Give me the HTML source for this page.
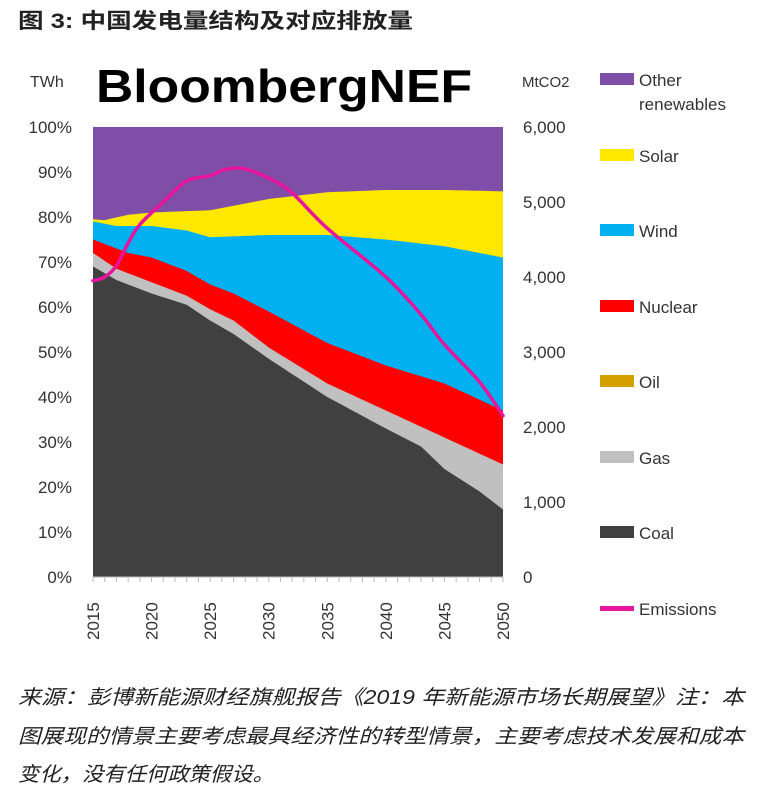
<!DOCTYPE html>
<html><head><meta charset="utf-8"><style>
html,body{margin:0;padding:0;background:#fff;}
svg{display:block;}
text{font-family:"Liberation Sans","Noto Sans CJK SC",sans-serif;}
</style></head><body>
<svg id="s" width="762" height="800" viewBox="0 0 762 800" xmlns="http://www.w3.org/2000/svg">
<text x="18" y="28" font-size="21" font-weight="bold" fill="#222" textLength="395" lengthAdjust="spacingAndGlyphs">图 3: 中国发电量结构及对应排放量</text>
<text x="96" y="102" font-size="46" font-weight="bold" fill="#000" textLength="376" lengthAdjust="spacingAndGlyphs">BloombergNEF</text>
<text x="30" y="87" font-size="16" fill="#333">TWh</text>
<text x="522" y="87" font-size="15" fill="#333">MtCO2</text>
<g id="chart"></g>
<g font-size="17" fill="#333">
<rect x="600" y="73" width="34" height="12" fill="#7f4fa8"/><text x="639" y="86">Other</text><text x="639" y="110">renewables</text>
<rect x="600" y="149" width="34" height="12" fill="#ffe800"/><text x="639" y="162">Solar</text>
<rect x="600" y="224" width="34" height="12" fill="#00b0f0"/><text x="639" y="237">Wind</text>
<rect x="600" y="300" width="34" height="12" fill="#ff0000"/><text x="639" y="313">Nuclear</text>
<rect x="600" y="375" width="34" height="12" fill="#d4a000"/><text x="639" y="388">Oil</text>
<rect x="600" y="451" width="34" height="12" fill="#c0c0c0"/><text x="639" y="464">Gas</text>
<rect x="600" y="526" width="34" height="12" fill="#404040"/><text x="639" y="539">Coal</text>
<rect x="600" y="606" width="34" height="5" fill="#e6159b"/><text x="639" y="615">Emissions</text>
</g>
<g font-size="20" font-style="italic" fill="#222">
<text x="18" y="704" textLength="726" lengthAdjust="spacingAndGlyphs">来源：彭博新能源财经旗舰报告《2019 年新能源市场长期展望》注：本</text>
<text x="18" y="743" textLength="726" lengthAdjust="spacingAndGlyphs">图展现的情景主要考虑最具经济性的转型情景，主要考虑技术发展和成本</text>
<text x="18" y="781" textLength="256" lengthAdjust="spacingAndGlyphs">变化，没有任何政策假设。</text>
</g>
</svg>
<script>
var L=93,R=503,T=127,B=577;
function X(y){return L+(y-2015)*(R-L)/35;}
function Y(p){return B-p*(B-T)/100;}
function interp(pts,step){step=step||0.5;var out=[];for(var y=2015;y<=2050.001;y+=step){for(var i=0;i<pts.length-1;i++){if(y>=pts[i][0]-1e-9&&y<=pts[i+1][0]+1e-9){var t=(y-pts[i][0])/(pts[i+1][0]-pts[i][0]);out.push([y,pts[i][1]+t*(pts[i+1][1]-pts[i][1])]);break;}}}return out;}
var coal=[[2015,69],[2017,66],[2020,63],[2023,60.5],[2025,57],[2027,54],[2030,48.5],[2035,40],[2040,33],[2043,29],[2045,24],[2048,19],[2050,15]];
var gas=[[2015,72],[2017,68.5],[2020,65.5],[2023,62.5],[2025,59.5],[2027,57],[2030,51],[2035,43],[2040,37],[2045,31],[2050,25]];
var nuc=[[2015,75],[2018,72],[2020,71],[2023,68],[2025,65],[2027,63],[2030,59],[2035,52],[2040,47],[2045,43],[2050,37]];
var wind=[[2015,79],[2017,78],[2020,78],[2023,77],[2025,75.5],[2030,76],[2035,76],[2040,75],[2045,73.5],[2050,71]];
var solar=[[2015,79.5],[2016,79.3],[2018,80.5],[2020,81],[2025,81.5],[2030,84],[2035,85.5],[2040,86],[2045,86],[2050,85.7]];
var em=[[2015,3950],[2016,4000],[2017,4150],[2018,4450],[2019,4700],[2021,5000],[2023,5280],[2025,5350],[2026,5420],[2027,5450],[2028,5440],[2030,5320],[2032,5120],[2035,4650],[2040,4000],[2043,3500],[2045,3100],[2048,2600],[2050,2150]];
var ns="http://www.w3.org/2000/svg",g=document.getElementById("chart");
function el(n,a){var e=document.createElementNS(ns,n);for(var k in a)e.setAttribute(k,a[k]);g.appendChild(e);return e;}
el("rect",{x:L,y:T,width:R-L,height:B-T,fill:"#7f4fa8"});
function area(top,color){var p=interp(top);var d="M"+X(2015)+","+B;p.forEach(function(q){d+=" L"+X(q[0]).toFixed(1)+","+Y(q[1]).toFixed(1);});d+=" L"+R+","+B+" Z";el("path",{d:d,fill:color});}
area(solar,"#ffe800");area(wind,"#00b0f0");area(nuc,"#ff0000");area(gas,"#c0c0c0");area(coal,"#404040");
// smooth emissions via Catmull-Rom
var P=em.map(function(q){return [X(q[0]),B-q[1]*(B-T)/6000];});
var d="M"+P[0][0].toFixed(1)+","+P[0][1].toFixed(1);
for(var i=0;i<P.length-1;i++){var p0=P[i-1]||P[i],p1=P[i],p2=P[i+1],p3=P[i+2]||P[i+1];
var c1=[p1[0]+(p2[0]-p0[0])/6,p1[1]+(p2[1]-p0[1])/6],c2=[p2[0]-(p3[0]-p1[0])/6,p2[1]-(p3[1]-p1[1])/6];
d+=" C"+c1[0].toFixed(1)+","+c1[1].toFixed(1)+" "+c2[0].toFixed(1)+","+c2[1].toFixed(1)+" "+p2[0].toFixed(1)+","+p2[1].toFixed(1);}
el("path",{d:d,fill:"none",stroke:"#e6159b","stroke-width":3.5,"stroke-linejoin":"round","stroke-linecap":"round"});
el("line",{x1:L,y1:B,x2:R,y2:B,stroke:"#bbb"});
for(var y=2015;y<=2050;y++){el("line",{x1:X(y),y1:B,x2:X(y),y2:B+5,stroke:"#bbb"});}
for(var i=0;i<=10;i++){var yy=Y(i*10);var t=el("text",{x:72,y:yy+6,"font-size":17,fill:"#333","text-anchor":"end"});t.textContent=(i*10)+"%";}
var rl=["0","1,000","2,000","3,000","4,000","5,000","6,000"];
for(var i=0;i<7;i++){var yy=B-i*75;var t=el("text",{x:523,y:yy+6,"font-size":17,fill:"#333"});t.textContent=rl[i];}
for(var y=2015;y<=2050;y+=5){var x=X(y)+6;var t=el("text",{x:x,y:640,"font-size":17,fill:"#333",transform:"rotate(-90 "+x+" 640)"});t.textContent=y;}
</script>
</body></html>
